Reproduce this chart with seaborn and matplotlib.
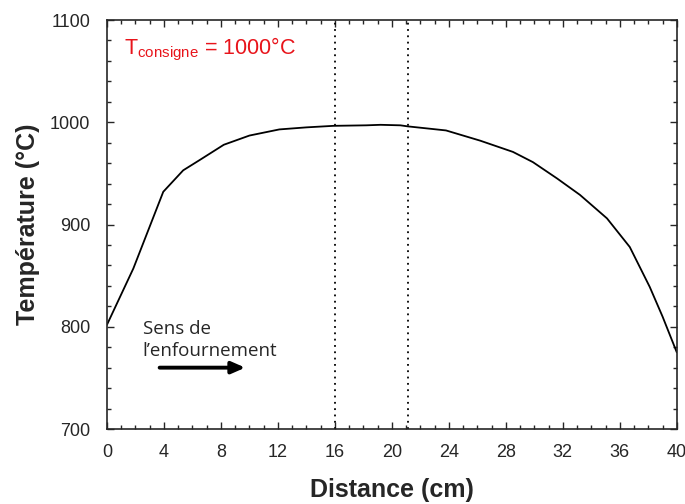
import numpy as np
import pandas as pd
import seaborn as sns
from matplotlib import pyplot as plt
from matplotlib.ticker import MultipleLocator

# profil de température mesuré dans le four
distance = [0, 1.85, 3.95, 5.35, 6.5, 8.2, 10.0, 12.1, 14.0, 15.9, 18.2, 19.2, 20.6,
            21.1, 23.8, 26.2, 28.5, 29.9, 31.6, 33.2, 35.1, 36.7, 38.1, 39.0, 40.0]
temperature = [802, 857, 932, 953, 963, 978, 987, 993, 995, 996.5, 997, 997.5, 997,
               996, 992, 982, 971, 961, 945, 929, 906, 878, 839, 810, 775]
zone_limits = [16, 21.1]

df = pd.DataFrame({'Distance': distance, 'Temperature': temperature})

sns.set_style('ticks')
plt.rcParams['font.family'] = ['Liberation Sans', 'DejaVu Sans']

fig = plt.figure(figsize=(6.85, 5.04), dpi=100)
ax = fig.add_axes([0.1562, 0.1488, 0.8318, 0.8115])

sns.lineplot(data=df, x='Distance', y='Temperature', color='black', linewidth=1.3, ax=ax)

for xv in zone_limits:
    ax.axvline(xv, color='black', linestyle=(0, (1, 2.5)), linewidth=1.3)

ax.set_xlim(0, 40)
ax.set_ylim(700, 1100)
ax.xaxis.set_major_locator(MultipleLocator(4))
ax.xaxis.set_minor_locator(MultipleLocator(1))
ax.yaxis.set_major_locator(MultipleLocator(100))
ax.yaxis.set_minor_locator(MultipleLocator(20))
ax.tick_params(which='both', direction='in', top=True, right=True, labelsize=13, width=1)
ax.tick_params(which='major', length=5)
ax.tick_params(which='minor', length=3)
ax.tick_params(axis='x', pad=11)
ax.tick_params(axis='y', pad=12)
for s in ax.spines.values():
    s.set_linewidth(1.2)

ax.set_xlabel('Distance (cm)', fontsize=18, fontweight='bold', labelpad=12)
ax.set_ylabel('Température (°C)', fontsize=18, fontweight='bold', labelpad=7)

ax.text(1.2, 1071, r'T$_{\mathregular{consigne}}$ = 1000°C', color='#e8141b',
        fontsize=15.5, va='center', ha='left')
ax.text(2.5, 787, 'Sens de\nl\u2019enfournement', fontsize=13.5, family=['Open Sans', 'DejaVu Sans'],
        va='center', ha='left', linespacing=1.35)
ax.annotate('', xy=(9.9, 760), xytext=(3.5, 760),
            arrowprops=dict(arrowstyle='-|>,head_length=0.8,head_width=0.35', color='black', lw=2.8))

fig.savefig('out.png', dpi=100)
